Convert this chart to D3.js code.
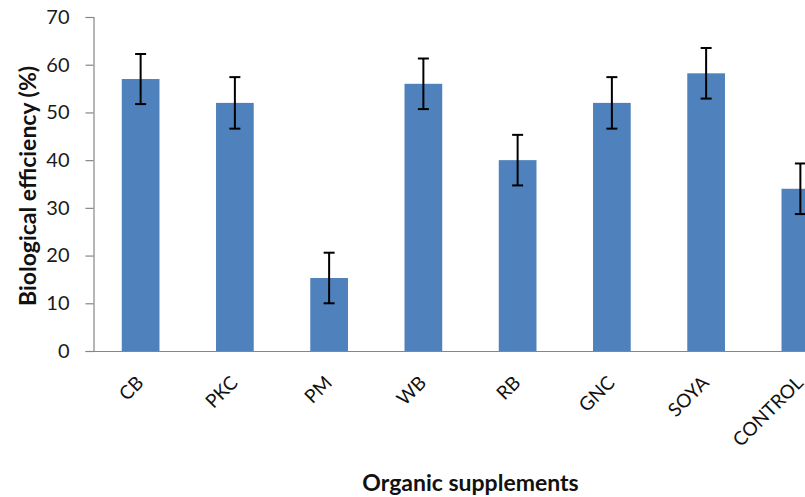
<!DOCTYPE html>
<html>
<head>
<meta charset="utf-8">
<script src="https://cdn.jsdelivr.net/npm/d3@7/dist/d3.min.js"></script>
<style>
  html, body { margin: 0; padding: 0; background: #fff; overflow: hidden; }
  svg { display: block; }
  text { font-family: Lato, "Open Sans", "Liberation Sans", sans-serif; }
</style>
</head>
<body>
<svg id="chart" width="805" height="497"></svg>
<script>
const categories = ["CB", "PKC", "PM", "WB", "RB", "GNC", "SOYA", "CONTROL"];
const values = [57, 52, 15.3, 56, 40, 52, 58.2, 34];
const errors = [5.25, 5.4, 5.3, 5.3, 5.3, 5.4, 5.3, 5.3];
const yTicks = [0, 10, 20, 30, 40, 50, 60, 70];
const xTitle = "Organic supplements";
const yTitle = "Biological efficiency (%)";

(function () {
const svg = d3.select("#chart");
const mLeft = 93.5, mRight = 847.5, mTop = 17, mBottom = 351;

const x = d3.scaleBand().domain(categories).range([mLeft, mRight]).paddingInner(0.6).paddingOuter(0.3);
const y = d3.scaleLinear().domain([0, 70]).range([mBottom, mTop]);

const data = categories.map((c, i) => ({ c, v: values[i], e: errors[i] }));

// bars
svg.append("g").selectAll("rect").data(data).join("rect")
  .attr("x", d => x(d.c))
  .attr("y", d => y(d.v))
  .attr("width", x.bandwidth())
  .attr("height", d => y(0) - y(d.v))
  .attr("fill", "#4F81BD");

// error bars
const eg = svg.append("g").attr("stroke", "#000").attr("stroke-width", 2);
data.forEach(d => {
  const cx = x(d.c) + x.bandwidth() / 2;
  eg.append("line").attr("x1", cx).attr("x2", cx).attr("y1", y(d.v + d.e)).attr("y2", y(d.v - d.e));
  eg.append("line").attr("x1", cx - 5.5).attr("x2", cx + 5.5).attr("y1", y(d.v + d.e)).attr("y2", y(d.v + d.e));
  eg.append("line").attr("x1", cx - 5.5).attr("x2", cx + 5.5).attr("y1", y(d.v - d.e)).attr("y2", y(d.v - d.e));
});

// y axis
const yAxis = d3.axisLeft(y).tickValues(yTicks).tickSize(8).tickPadding(16).tickFormat(d3.format("d"));
const ya = svg.append("g").attr("transform", `translate(${mLeft},0)`).call(yAxis);
ya.select(".domain").attr("stroke", "#868686").attr("stroke-width", 1.2);
ya.selectAll(".tick line").attr("stroke", "#868686").attr("stroke-width", 1.2);
ya.selectAll(".tick text").attr("font-size", 20).attr("fill", "#1a1a1a")
  .style("font-family", "Lato, 'Open Sans', sans-serif");

// x axis
const xAxis = d3.axisBottom(x).tickSize(0).tickPadding(0);
const xa = svg.append("g").attr("transform", `translate(0,${mBottom})`).call(xAxis);
xa.select(".domain").attr("stroke", "#868686").attr("stroke-width", 1.2);
xa.selectAll(".tick text")
  .attr("font-size", 19).attr("fill", "#111")
  .attr("text-anchor", "end")
  .attr("dy", 0).attr("y", 0)
  .attr("transform", "translate(4,33) rotate(-45)")
  .style("font-family", "Lato, 'Open Sans', sans-serif");

// titles
svg.append("text").attr("x", (mLeft + mRight) / 2).attr("y", 491)
  .attr("text-anchor", "middle").attr("font-size", 23).attr("font-weight", "bold").attr("fill", "#111")
  .text(xTitle);
svg.append("text").attr("transform", `translate(35.5,186) rotate(-90)`)
  .attr("text-anchor", "middle").attr("font-size", 23).attr("font-weight", "bold").attr("fill", "#111")
  .text(yTitle);
})();
</script>
</body>
</html>
